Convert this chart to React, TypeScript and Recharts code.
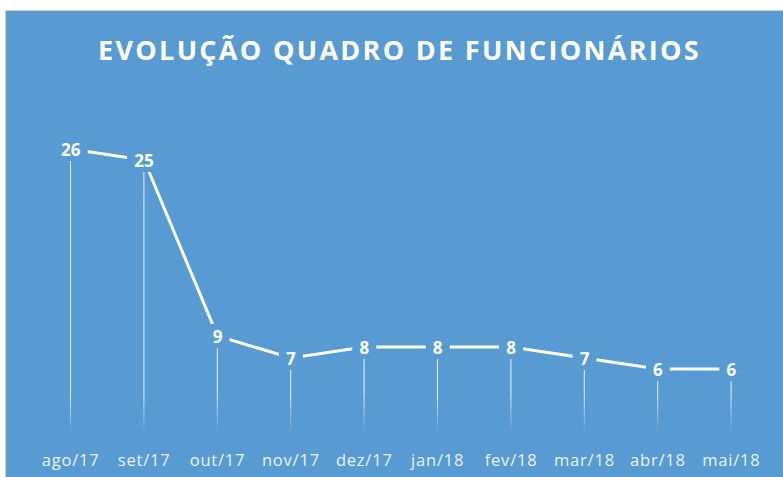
import React from "react";
import { ComposedChart, Line, Bar, XAxis, YAxis, LabelList } from "recharts";

const months = ["ago/17", "set/17", "out/17", "nov/17", "dez/17", "jan/18", "fev/18", "mar/18", "abr/18", "mai/18"];
const headcount = [26, 25, 9, 7, 8, 8, 8, 7, 6, 6];
const title = "EVOLUÇÃO QUADRO DE FUNCIONÁRIOS";

const data = months.map((m, i) => ({ month: m, value: headcount[i] }));

const BLUE = "#579BD2";
const FONT = "'Open Sans', 'DejaVu Sans', sans-serif";

const ValueLabel = (props: any) => {
  const { x, y, value } = props;
  const s = String(value);
  const w = s.length * 10 + 14;
  return (
    <g>
      <rect x={x - w / 2} y={y - 12} width={w} height={24} fill={BLUE} />
      <text
        x={x}
        y={y}
        textAnchor="middle"
        dominantBaseline="central"
        fill="#ffffff"
        fontFamily={FONT}
        fontWeight={700}
        fontSize={17}
      >
        {s}
      </text>
    </g>
  );
};

const MonthTick = (props: any) => {
  const { x, y, payload } = props;
  return (
    <text
      x={x}
      y={y}
      dy={31}
      textAnchor="middle"
      fill="#EDF2F8"
      fontFamily={FONT}
      fontSize={16.5}
      letterSpacing={0.8}
    >
      {payload.value}
    </text>
  );
};

export default function App() {
  return (
    <div style={{ position: "absolute", left: 0, top: 0, width: 783, height: 477, background: "#ffffff", overflow: "hidden" }}>
      <div
        style={{
          position: "absolute",
          left: 5,
          top: 10,
          width: 778,
          height: 467,
          background: BLUE,
          borderLeft: "1px solid #d0d0d0",
          borderTop: "1px solid #d0d0d0",
          boxSizing: "border-box",
        }}
      />
      <div
        style={{
          position: "absolute",
          left: 8,
          top: 31,
          width: 783,
          textAlign: "center",
          color: "#ffffff",
          fontFamily: FONT,
          fontWeight: 700,
          fontSize: 27,
          letterSpacing: 2.3,
          lineHeight: "38px",
          whiteSpace: "nowrap",
        }}
      >
        {title}
      </div>
      <div style={{ position: "absolute", left: 0, top: 0 }}>
        <ComposedChart
          width={783}
          height={477}
          data={data}
          margin={{ top: 149, right: 15, bottom: 0, left: 34 }}
        >
          <defs>
            <linearGradient id="dropFade" gradientUnits="userSpaceOnUse" x1="0" y1="395" x2="0" y2="433">
              <stop offset="0" stopColor="#ffffff" stopOpacity={0.85} />
              <stop offset="1" stopColor="#ffffff" stopOpacity={0} />
            </linearGradient>
          </defs>
          <XAxis
            dataKey="month"
            height={42}
            axisLine={false}
            tickLine={false}
            tickSize={0}
            tickMargin={0}
            interval={0}
            tick={<MonthTick />}
          />
          <YAxis hide domain={[0, 26]} />
          <Bar dataKey="value" barSize={1} fill="url(#dropFade)" isAnimationActive={false} />
          <Line
            type="linear"
            dataKey="value"
            stroke="#ffffff"
            strokeWidth={3}
            dot={false}
            activeDot={false}
            isAnimationActive={false}
          >
            <LabelList dataKey="value" content={<ValueLabel />} />
          </Line>
        </ComposedChart>
      </div>
    </div>
  );
}
